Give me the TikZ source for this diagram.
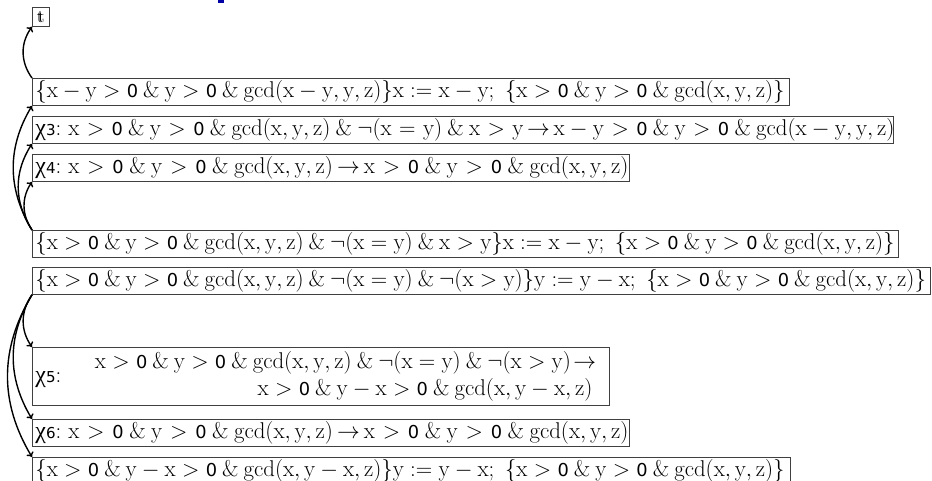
\RequirePackage{fix-cm}
\documentclass[tikz,border=0pt]{standalone}
\usepackage{amsmath}
\usepackage{fontspec}
\usetikzlibrary{arrows.meta}
\newfontfamily\zerofont[Scale=0.78]{DejaVu Sans}
\newfontfamily\chifont[Scale=1.05]{Liberation Serif}
\newfontfamily\subfont[Scale=0.66]{DejaVu Sans}
\newcommand\Zr{\mbox{\zerofont 0}}
\newcommand\Am{\mathbin{\&}}
\newcommand\Imp{\mathrel{\mkern-3mu\to\mkern-3mu}}
\newcommand\Chi[1]{{\chifont χ}{\subfont #1}:\hspace{7pt}}
\newcommand\Bt{\rlap{t}\kern1.5pt t}
\begin{document}
\begin{tikzpicture}[x=1pt,y=-1pt,
  box/.style={draw=black!75, line width=0.8pt, anchor=north west, inner sep=0pt, minimum height=27pt},
  arr/.style={-{To[length=4.5pt,width=8pt]}, line width=1.4pt},
  every node/.append style={font=\fontsize{22.8}{27}\selectfont}]
\useasboundingbox (0,0) rectangle (932,481);
\fill[blue!65!black] (218,0) rectangle (224,3);
\node[draw=black!75, line width=0.8pt, anchor=north west, inner sep=0pt, minimum width=17pt, minimum height=19pt, font=\fontsize{18}{18}\selectfont] (t) at (32,7) {\Bt};
\node[box] (b1) at (32,78) {\makebox[757pt][l]{\hspace{3pt}$\mathrm{\{x-y>\Zr\Am y>\Zr\Am\gcd(x-y,y,z)\}x:=x-y;\ \{x>\Zr\Am y>\Zr\Am\gcd(x,y,z)\}}$}};
\node[box] (b2) at (32,116) {\makebox[861pt][l]{\hspace{3pt}\Chi3{\thickmuskip=5.9mu\medmuskip=4.15mu$\mathrm{x>\Zr\Am y>\Zr\Am\gcd(x,y,z)\Am\neg(x=y)\Am x>y\Imp x-y>\Zr\Am y>\Zr\Am\gcd(x-y,y,z)}$}}};
\node[box] (b3) at (32,154) {\makebox[597pt][l]{\hspace{3pt}\Chi4{\thickmuskip=6.2mu\medmuskip=4.35mu$\mathrm{x>\Zr\Am y>\Zr\Am\gcd(x,y,z)\Imp x>\Zr\Am y>\Zr\Am\gcd(x,y,z)}$}}};
\node[box] (b4) at (32,230) {\makebox[866pt][l]{\hspace{3pt}$\mathrm{\{x>\Zr\Am y>\Zr\Am\gcd(x,y,z)\Am\neg(x=y)\Am x>y\}x:=x-y;\ \{x>\Zr\Am y>\Zr\Am\gcd(x,y,z)\}}$}};
\node[box] (b5) at (32,267) {\makebox[898pt][l]{\hspace{3pt}$\mathrm{\{x>\Zr\Am y>\Zr\Am\gcd(x,y,z)\Am\neg(x=y)\Am\neg(x>y)\}y:=y-x;\ \{x>\Zr\Am y>\Zr\Am\gcd(x,y,z)\}}$}};
\node[box, minimum height=58pt] (b6) at (32,347) {\makebox[577pt][l]{\hspace{3pt}\Chi5\hfill\begin{tabular}{@{}r@{}}$\mathrm{x>\Zr\Am y>\Zr\Am\gcd(x,y,z)\Am\neg(x=y)\Am\neg(x>y)\Imp}$\\$\mathrm{x>\Zr\Am y-x>\Zr\Am\gcd(x,y-x,z)}$\end{tabular}\hspace{17pt}}};
\node[box] (b7) at (32,419) {\makebox[597pt][l]{\hspace{3pt}\Chi6{\thickmuskip=6.2mu\medmuskip=4.35mu$\mathrm{x>\Zr\Am y>\Zr\Am\gcd(x,y,z)\Imp x>\Zr\Am y>\Zr\Am\gcd(x,y,z)}$}}};
\node[box] (b8) at (32,457) {\makebox[758pt][l]{\hspace{3pt}$\mathrm{\{x>\Zr\Am y-x>\Zr\Am\gcd(x,y-x,z)\}y:=y-x;\ \{x>\Zr\Am y>\Zr\Am\gcd(x,y,z)\}}$}};
\draw[arr] (b1.north west) to[bend left=36] (t.south west);
\draw[arr] (b4.north west) to[bend left=31] (b1.south west);
\draw[arr] (b4.north west) to[bend left=33] (b2.south west);
\draw[arr] (b4.north west) to[bend left=34] (b3.south west);
\draw[arr] (b5.south west) to[bend right=35] (b6.north west);
\draw[arr] (b5.south west) to[bend right=31] (b7.north west);
\draw[arr] (b5.south west) to[bend right=31] (b8.north west);
\end{tikzpicture}
\end{document}
